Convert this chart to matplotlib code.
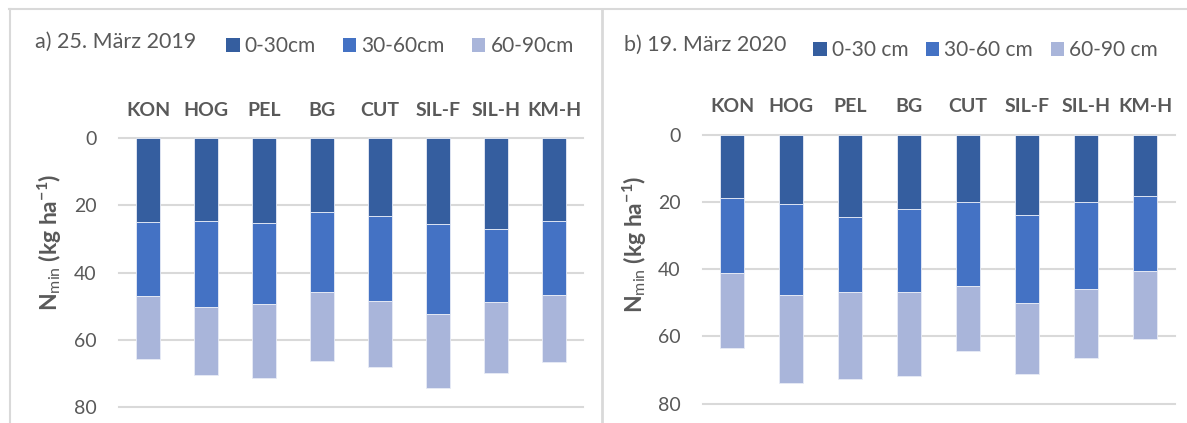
import matplotlib.pyplot as plt
from matplotlib.lines import Line2D
from matplotlib.patches import Patch

plt.rcParams['font.family'] = ['Lato', 'DejaVu Sans']
plt.rcParams['mathtext.fontset'] = 'custom'
plt.rcParams['mathtext.rm'] = 'Lato'
plt.rcParams['mathtext.bf'] = 'Lato:bold'
plt.rcParams['mathtext.it'] = 'Lato:italic'

sites = ["KON", "HOG", "PEL", "BG", "CUT", "SIL-F", "SIL-H", "KM-H"]

# a) 25. März 2019, Nmin per layer (kg/ha)
a_0_30 = [24.9, 24.7, 25.2, 22.0, 23.3, 25.6, 27.0, 24.7]
a_30_60 = [22.0, 25.6, 24.0, 23.8, 25.1, 26.8, 21.7, 21.9]
a_60_90 = [18.8, 20.2, 22.2, 20.3, 19.6, 21.9, 21.2, 19.8]

# b) 19. März 2020
b_0_30 = [18.9, 20.7, 24.5, 22.1, 20.0, 23.9, 20.1, 18.2]
b_30_60 = [22.1, 27.0, 22.3, 24.7, 25.0, 26.3, 25.8, 22.3]
b_60_90 = [22.3, 26.1, 26.0, 25.1, 19.2, 21.1, 20.6, 20.3]

colors = ["#355E9F", "#4472C4", "#A9B5DA"]
grey = "#595959"
W, H = 1187, 423

fig = plt.figure(figsize=(W / 100, H / 100), dpi=100)


def panel(left, right, top, bottom, layers, labels, title, title_xy, leg_xy, colspace, ylab_xy, width):
    ax = fig.add_axes([left / W, 1 - bottom / H, (right - left) / W, (bottom - top) / H])
    x = range(len(sites))
    base = [0] * len(sites)
    for vals, c in zip(layers, colors):
        ax.bar(x, vals, width, bottom=base, color=c, edgecolor="#E8ECF6", linewidth=0.6, zorder=3)
        base = [b + v for b, v in zip(base, vals)]
    ax.set_ylim(80, 0)
    ax.set_xlim(-0.5, len(sites) - 0.5)
    ax.set_yticks([0, 20, 40, 60, 80])
    ax.yaxis.grid(True, color="#D9D9D9", linewidth=1.5)
    for gl in ax.get_ygridlines():
        gl.set_clip_on(False)
    ax.xaxis.tick_top()
    ax.set_xticks(list(x))
    ax.set_xticklabels(sites, fontsize=14, fontweight="bold", color=grey)
    ax.tick_params(axis="x", length=0, pad=14)
    ax.tick_params(axis="y", length=0, pad=16, labelsize=14, labelcolor=grey)
    for s in ax.spines.values():
        s.set_visible(False)

    fig.text(title_xy[0] / W, 1 - title_xy[1] / H, title, fontsize=15.5, color=grey, va="center", ha="left")
    fig.text(ylab_xy[0] / W, 1 - ylab_xy[1] / H, r"$\mathbf{N}_{\mathrm{min}}$ (kg ha$^{\mathbf{-1}}$)",
             rotation=90, fontsize=16.5, fontweight="bold", color=grey, ha="center", va="center")
    handles = [Patch(facecolor=c, edgecolor="none") for c in colors]
    fig.legend(handles, labels, loc="center left", bbox_to_anchor=(leg_xy[0] / W, 1 - leg_xy[1] / H),
               ncol=3, frameon=False, fontsize=15, handlelength=0.65, handleheight=0.65,
               handletextpad=0.24, columnspacing=colspace, borderpad=0, borderaxespad=0, labelcolor=grey)
    return ax


panel(119, 583, 138, 407.3, [a_0_30, a_30_60, a_60_90], ["0-30cm", "30-60cm", "60-90cm"],
      "a) 25. März 2019", (35, 42), (226, 46), 1.3, (50, 242), 0.43)
panel(702.7, 1174.7, 134.7, 403.7, [b_0_30, b_30_60, b_60_90], ["0-30 cm", "30-60 cm", "60-90 cm"],
      "b) 19. März 2020", (624, 45), (813, 50), 0.85, (635, 244), 0.40)

# chart frames
border = "#D9D9D9"
fig.add_artist(Line2D([9 / W, 1], [1 - 9.5 / H, 1 - 9.5 / H], color=border, linewidth=1.5))
fig.add_artist(Line2D([10 / W, 10 / W], [0, 1 - 9.5 / H], color=border, linewidth=1.5))
fig.add_artist(Line2D([601.5 / W, 601.5 / W], [0, 1 - 9.5 / H], color=border, linewidth=2))

fig.savefig("out.png", dpi=100)
